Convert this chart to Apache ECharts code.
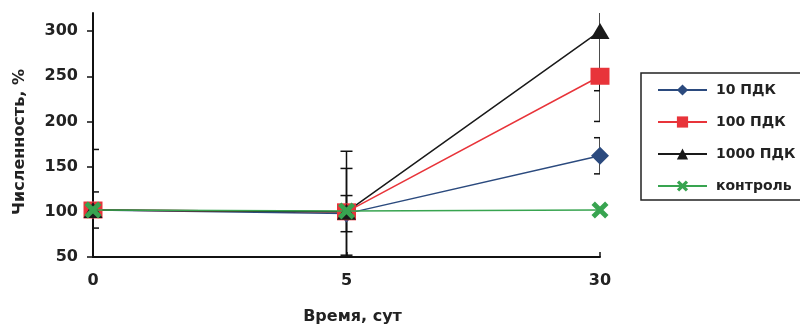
<!DOCTYPE html>
<html>
<head>
<meta charset="utf-8">
<script src="https://cdn.jsdelivr.net/npm/echarts@6/dist/echarts.min.js"></script>
<style>
  html, body { margin: 0; padding: 0; background: #fff; }
  #chart { width: 800px; height: 327px; }
</style>
</head>
<body>
<div id="chart"></div>
<script>
// данные с графика
var days = ['0', '5', '30']
var yTicks = [50, 100, 150, 200, 250, 300]

var pdk10 = [102, 98, 162]
var pdk100 = [102, 100, 250]
var pdk1000 = [102, 100, 300]
var control = [102, 101, 102]

// погрешности: вверх / вниз
var err10Up = [20, 20, 20]
var err10Down = [20, 20, 20]
var err100Up = [0, 48, 0]
var err100Down = [0, 48, 16]
var err1000Up = [67, 67, 100]
var err1000Down = [67, 67, 100]

var FONT = '"DejaVu Sans", "Liberation Sans", Arial, sans-serif'
var crossIcon = 'path://M0,2 L2,0 L5,3 L8,0 L10,2 L7,5 L10,8 L8,10 L5,7 L2,10 L0,8 L3,5 Z'

function errData(vals, up, down) {
  var out = []
  vals.forEach(function (v, i) {
    if (up[i] > 0 || down[i] > 0) out.push([i, v - down[i], v + up[i], down[i] > 0 ? 1 : 0, up[i] > 0 ? 1 : 0])
  })
  return out
}

function renderErr(params, api) {
  var x = api.value(0)
  var lo = api.coord([x, api.value(1)])
  var hi = api.coord([x, api.value(2)])
  var w = 6
  var style = { stroke: '#111', lineWidth: 1.5 }
  var kids = [{ type: 'line', shape: { x1: lo[0], y1: lo[1], x2: hi[0], y2: hi[1] }, style: style }]
  if (api.value(3)) kids.push({ type: 'line', shape: { x1: lo[0] - w, y1: lo[1], x2: lo[0] + w, y2: lo[1] }, style: style })
  if (api.value(4)) kids.push({ type: 'line', shape: { x1: hi[0] - w, y1: hi[1], x2: hi[0] + w, y2: hi[1] }, style: style })
  return { type: 'group', children: kids }
}

function errSeries(vals, up, down) {
  return {
    type: 'custom',
    renderItem: renderErr,
    clip: true,
    silent: true,
    z: 1,
    encode: { x: 0, y: [1, 2] },
    data: errData(vals, up, down)
  }
}

var chart = echarts.init(document.getElementById('chart'))
chart.setOption({
  animation: false,
  backgroundColor: '#fff',
  grid: { left: 93, right: 200, top: 13, bottom: 70, outerBoundsMode: 'none', containLabel: false },
  legend: {
    orient: 'vertical',
    left: 641,
    top: 73,
    padding: [10, 12, 7, 16],
    itemWidth: 49,
    itemHeight: 14,
    itemGap: 18,
    borderColor: '#222',
    borderWidth: 1.5,
    data: ['10 ПДК', '100 ПДК', '1000 ПДК', 'контроль'],
    textStyle: { fontFamily: FONT, fontWeight: 'bold', fontSize: 14, color: '#222', padding: [0, 0, 0, 4] }
  },
  xAxis: {
    type: 'category',
    data: days,
    boundaryGap: false,
    name: 'Время, сут',
    nameLocation: 'middle',
    nameGap: 52,
    nameTextStyle: { fontFamily: FONT, fontWeight: 'bold', fontSize: 16, color: '#222', padding: [0, 0, 0, 12] },
    axisLine: { lineStyle: { color: '#111', width: 2 } },
    axisTick: { inside: true, length: 5, lineStyle: { color: '#111', width: 1.5 } },
    axisLabel: { fontFamily: FONT, fontWeight: 'bold', fontSize: 16, color: '#222', margin: 16 },
    splitLine: { show: false }
  },
  yAxis: {
    type: 'value',
    min: 50,
    max: 320,
    name: 'Численность, %',
    nameLocation: 'middle',
    nameGap: 65,
    nameTextStyle: { fontFamily: FONT, fontWeight: 'bold', fontSize: 16, color: '#222', padding: [0, 14, 0, 0] },
    axisLine: { show: true, lineStyle: { color: '#111', width: 2 } },
    axisTick: { show: true, length: 6, customValues: yTicks, lineStyle: { color: '#111', width: 1.5 } },
    axisLabel: { customValues: yTicks, fontFamily: FONT, fontWeight: 'bold', fontSize: 16, color: '#222', margin: 15 },
    splitLine: { show: false }
  },
  series: [
    errSeries(pdk10, err10Up, err10Down),
    errSeries(pdk100, err100Up, err100Down),
    errSeries(pdk1000, err1000Up, err1000Down),
    {
      name: '10 ПДК',
      type: 'line',
      data: pdk10,
      symbol: 'diamond',
      symbolSize: 18,
      z: 3,
      color: '#2b4a7e',
      lineStyle: { width: 1.5, color: '#2b4a7e' }
    },
    {
      name: '100 ПДК',
      type: 'line',
      data: pdk100,
      symbol: 'rect',
      symbolSize: [19, 17],
      z: 3,
      color: '#e8343a',
      lineStyle: { width: 1.5, color: '#e8343a' }
    },
    {
      name: '1000 ПДК',
      type: 'line',
      data: pdk1000,
      symbol: 'triangle',
      symbolSize: [19, 16],
      z: 3,
      color: '#1a1a1a',
      lineStyle: { width: 1.5, color: '#1a1a1a' }
    },
    {
      name: 'контроль',
      type: 'line',
      data: control,
      symbol: crossIcon,
      symbolSize: 17,
      z: 4,
      color: '#38a450',
      lineStyle: { width: 1.5, color: '#38a450' }
    }
  ]
})
</script>
</body>
</html>
